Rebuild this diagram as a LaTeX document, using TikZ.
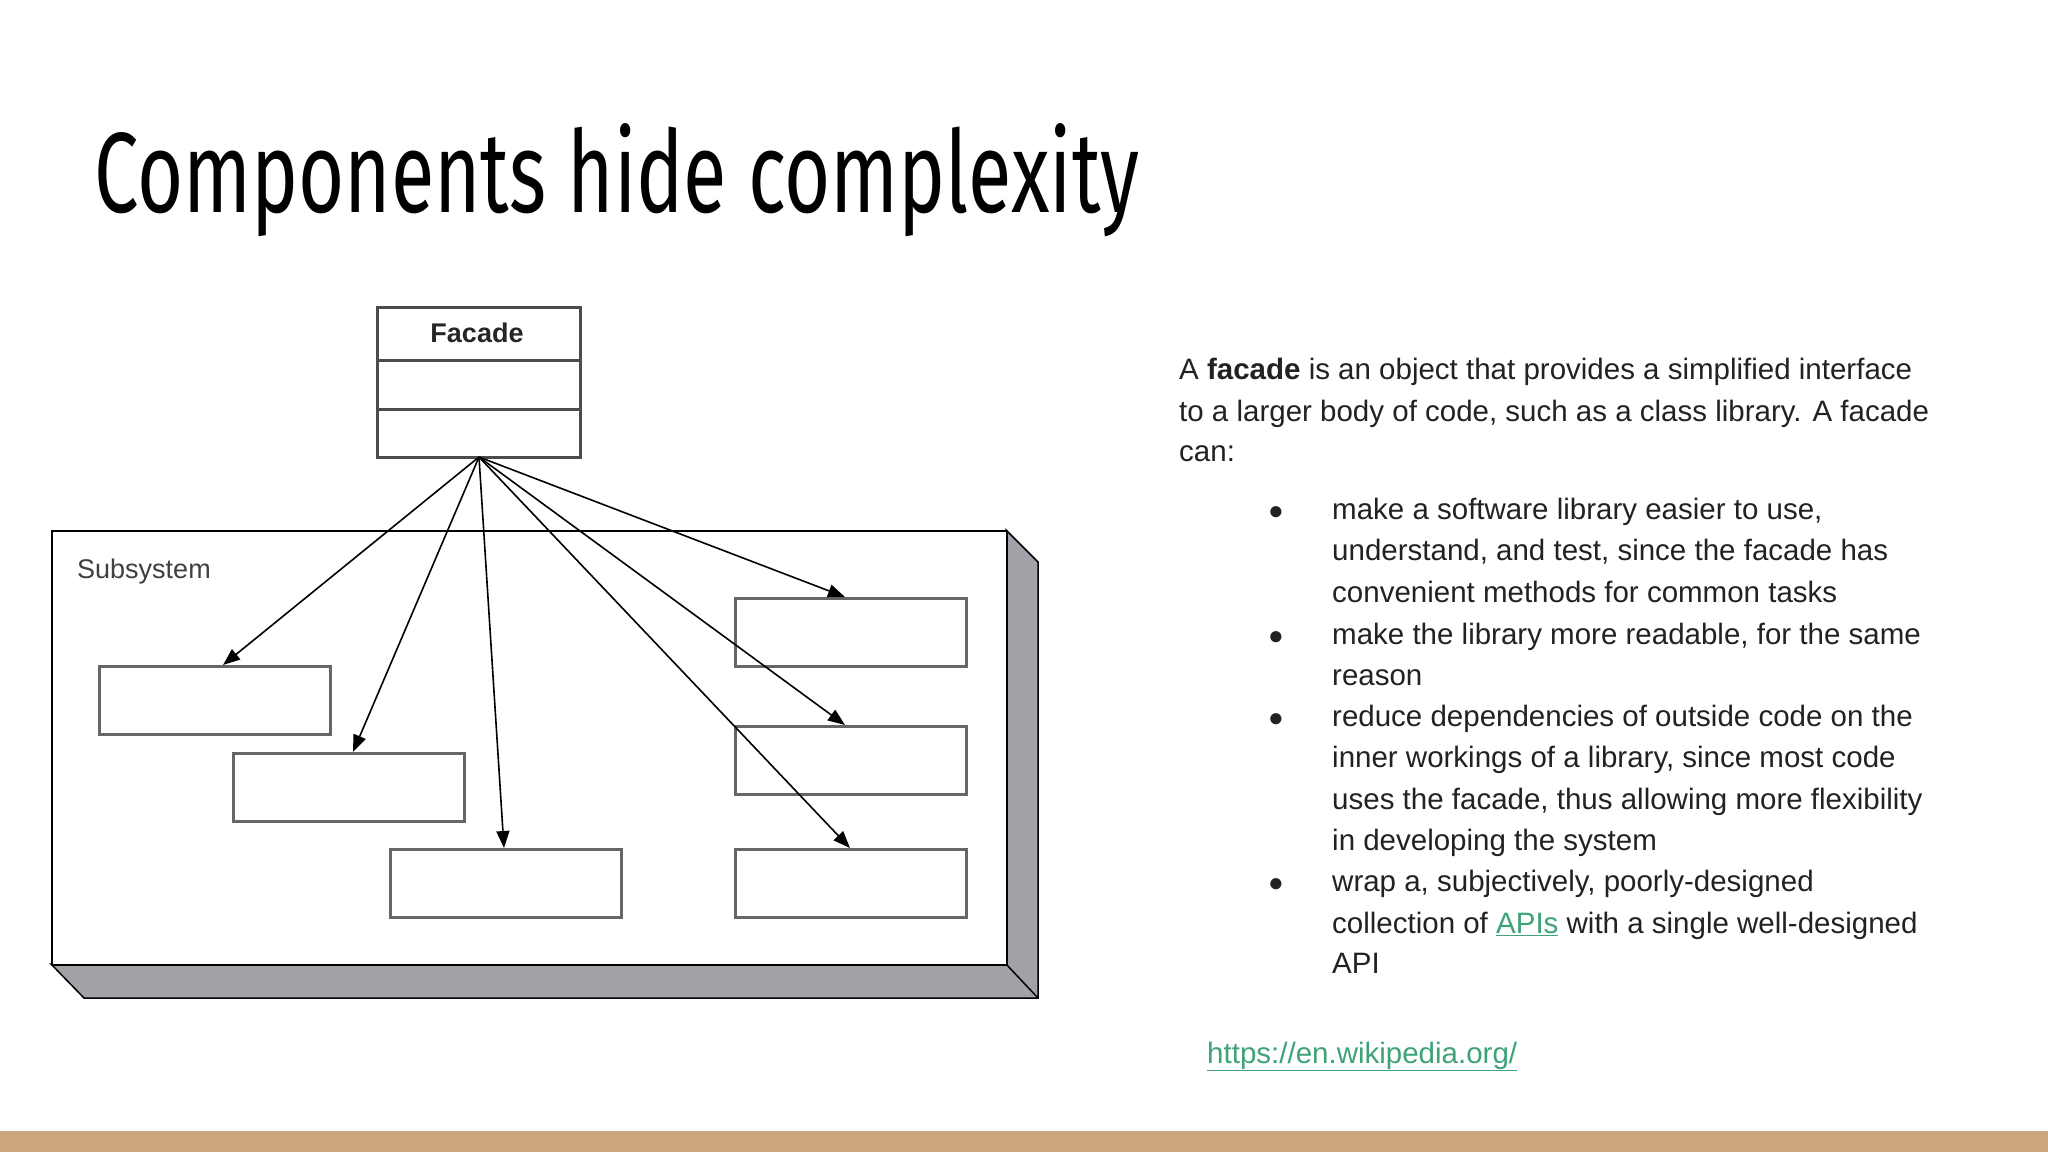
\documentclass[tikz,border=0pt]{standalone}
\usepackage{fontspec}
\setmainfont{Liberation Sans}
\newfontfamily\titlefont{Fira Sans}
\usetikzlibrary{arrows.meta}
\definecolor{linkgreen}{HTML}{3FA37A}
\definecolor{bartan}{HTML}{CBA57E}
\definecolor{shadegray}{HTML}{A2A1A8}
\definecolor{txt}{HTML}{222222}
\tikzset{
  sbox/.style={draw=black!60, line width=3pt, minimum width=231pt, minimum height=68pt, inner sep=0pt},
  ar/.style={-{Triangle[length=17pt,width=13pt]}, line width=1.6pt},
  bodyline/.style={anchor=base west, inner sep=0pt, font=\fontsize{29.5}{34}\selectfont, text=txt},
  bul/.style={anchor=base, inner sep=0pt, font=\fontsize{26}{30}\selectfont, text=txt}
}
\begin{document}
\begin{tikzpicture}[x=1pt,y=-1pt]
\useasboundingbox (0,0) rectangle (2048,1152);
\fill[white] (0,0) rectangle (2048,1152);
\fill[bartan] (0,1131) rectangle (2048,1152);
% title
\node[anchor=base west, inner sep=0pt] (title) at (94,212) {\resizebox{1045pt}{89pt}{\titlefont\fontsize{100}{110}\selectfont Components hide complexity}};
% subsystem
\fill[shadegray, draw=black, line width=1.5pt] (1006,530) -- (1038,562) -- (1038,998) -- (84,998) -- (51,964) -- (1006,964) -- cycle;
\draw[black, line width=1.5pt] (1006,964) -- (1038,998);
\node[draw=black, line width=2pt, fill=white, minimum width=955pt, minimum height=434pt, anchor=north west, inner sep=0pt] (sub) at (51,530) {};
\node[anchor=base west, inner sep=0pt, font=\fontsize{27}{30}\selectfont, text=black!75] (sublbl) at (77,578) {Subsystem};
% facade
\node[draw=black!70, line width=3pt, minimum width=203pt, minimum height=150pt, anchor=north west, inner sep=0pt] (fac) at (376,306) {};
\draw[black!70, line width=3pt] (376,360) -- (579,360) (376,409) -- (579,409);
\node[font=\bfseries\fontsize{27}{30}\selectfont, text=black!85] (faclbl) at (477,333) {Facade};
% boxes
\node[sbox, anchor=north west] (b1) at (98,665) {};
\node[sbox, anchor=north west] (b2) at (232,752) {};
\node[sbox, anchor=north west] (b3) at (389,848) {};
\node[sbox, anchor=north west] (b4) at (734,597) {};
\node[sbox, anchor=north west] (b5) at (734,725) {};
\node[sbox, anchor=north west] (b6) at (734,848) {};
\coordinate (apex) at (479,457);
\coordinate (t1) at (223,665);
\coordinate (t2) at (353,752);
\coordinate (t3) at (504,848);
\coordinate (t4) at (845,597);
\coordinate (t5) at (845,725);
\coordinate (t6) at (850,848);
\foreach \t in {t1,t2,t3,t4,t5,t6} \draw[ar] (apex) -- (\t);
% right text
\node[bodyline] (l1) at (1179,379) {A \textbf{facade} is an object that provides a simplified interface};
\node[bodyline] (l2) at (1179,421) {to a larger body of code, such as a class library. A facade};
\node[bodyline] (l3) at (1179,461) {can:};
\foreach \y/\t [count=\i] in {
 519/{make a software library easier to use,},
 560/{understand, and test, since the facade has},
 602/{convenient methods for common tasks},
 644/{make the library more readable, for the same},
 685/{reason},
 726/{reduce dependencies of outside code on the},
 767/{inner workings of a library, since most code},
 809/{uses the facade, thus allowing more flexibility},
 850/{in developing the system},
 891/{wrap a, subjectively, poorly-designed}}
 \node[bodyline] (bl\i) at (1332,\y) {\t};
\node[bodyline] (bl11) at (1332,933) {collection of \textcolor{linkgreen}{\underline{APIs}} with a single well-designed};
\node[bodyline] (bl12) at (1332,973) {API};
\foreach \y [count=\i] in {519,644,726,891} \node[bul] (dot\i) at (1276,\y) {●};
\node[bodyline, text=linkgreen] (link) at (1207,1063) {\underline{https://en.wikipedia.org/}};
\end{tikzpicture}
\end{document}
